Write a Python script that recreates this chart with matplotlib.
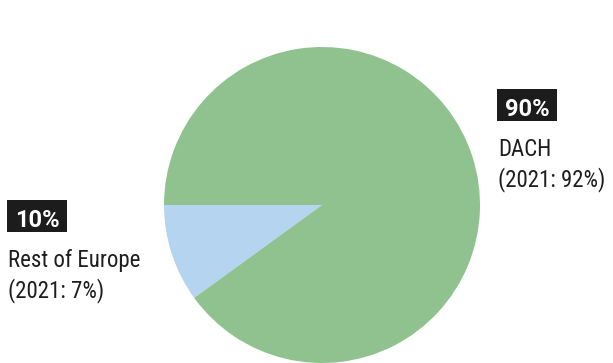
import matplotlib
matplotlib.use("Agg")
import matplotlib.pyplot as plt
from matplotlib.patches import Rectangle

regions = ["Rest of Europe", "DACH"]
shares = [10, 90]
prev_year = [7, 92]
colors = ["#b4d4ef", "#8fc28f"]

plt.rcParams["font.family"] = ["Roboto Condensed", "Liberation Sans", "DejaVu Sans"]

W, H = 613, 363
fig = plt.figure(figsize=(W / 100, H / 100), dpi=100)
fig.patch.set_facecolor("white")

# pie axes: centre (322, 205) px, radius 158 px
ax = fig.add_axes([164 / W, 0, 316 / W, 316 / H])
ax.pie(shares, colors=colors, startangle=180, counterclock=True,
       wedgeprops=dict(linewidth=0))
ax.set_xlim(-1, 1)
ax.set_ylim(-1, 1)
ax.set_aspect("equal")
ax.axis("off")


def px(x, y):
    return x / W, 1 - y / H


def label(x, top, i):
    # black badge with the share, then region name and last year's share
    fig.add_artist(Rectangle(px(x - 1, top + 32), 60 / W, 32 / H,
                             transform=fig.transFigure,
                             facecolor="#1c1c1c", edgecolor="none"))
    fig.text(*px(x + 29, top + 27), f"{shares[i]}%", color="white",
             fontsize=17, fontweight="bold", family=["Roboto", "DejaVu Sans"],
             va="baseline", ha="center")
    fig.text(*px(x, top + 67), regions[i], color="#1e1e1e",
             fontsize=16.5, va="baseline", ha="left")
    fig.text(*px(x, top + 97), f"(2021: {prev_year[i]}%)",
             color="#1e1e1e", fontsize=16.5, va="baseline", ha="left")


label(498, 89, 1)
label(8, 200, 0)

fig.savefig("out.png", dpi=100, facecolor="white")
